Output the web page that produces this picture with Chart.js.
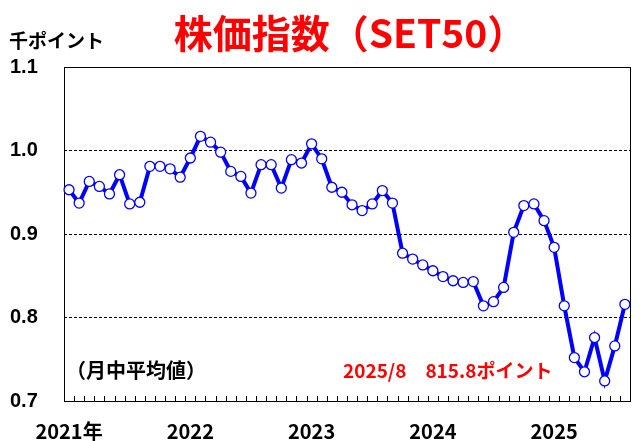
<!DOCTYPE html>
<html>
<head>
<meta charset="utf-8">
<script src="https://cdn.jsdelivr.net/npm/chart.js@4"></script>
<style>
  body { margin: 0; background: #fff; }
  canvas { display: block; }
</style>
</head>
<body>
<canvas id="setChart" width="643" height="441"></canvas>
<script>
// 月次データ（2021/1〜2025/8、千ポイント）
const months = [];
for (let y = 2021; y <= 2025; y++) {
  for (let m = 1; m <= 12; m++) {
    if (y === 2025 && m > 8) break;
    months.push(y + '/' + m);
  }
}
const values2021 = [0.953, 0.937, 0.963, 0.957, 0.948, 0.971, 0.936, 0.938, 0.981, 0.981, 0.978, 0.968];
const values2022 = [0.991, 1.017, 1.010, 0.998, 0.975, 0.969, 0.949, 0.983, 0.983, 0.955, 0.989, 0.985];
const values2023 = [1.008, 0.990, 0.956, 0.950, 0.935, 0.928, 0.936, 0.952, 0.937, 0.877, 0.870, 0.863];
const values2024 = [0.856, 0.849, 0.844, 0.842, 0.843, 0.814, 0.819, 0.836, 0.902, 0.934, 0.936, 0.916];
const values2025 = [0.884, 0.814, 0.752, 0.735, 0.776, 0.724, 0.766, 0.8158];
const setValues = [...values2021, ...values2022, ...values2023, ...values2024, ...values2025];
const yTicks = [0.7, 0.8, 0.9, 1.0, 1.1];

const JP = '"Noto Sans CJK JP", "Liberation Sans", sans-serif';
const NUM = '"Liberation Sans", Arial, sans-serif';

// 枠・目盛り・文字
const decor = {
  id: 'decor',
  beforeDatasetsDraw(chart) {
    const { ctx, chartArea: a, scales: { x } } = chart;
    const half = (x.getPixelForValue(1) - x.getPixelForValue(0)) / 2;
    ctx.save();
    ctx.strokeStyle = '#000';
    ctx.lineWidth = 1;
    ctx.beginPath();
    for (let i = 0; i <= months.length; i++) {
      const px = Math.round(x.getPixelForValue(i) - half) + 0.5;
      ctx.moveTo(px, a.bottom);
      ctx.lineTo(px, a.bottom - 5);
    }
    ctx.stroke();
    ctx.strokeRect(Math.round(a.left) + 0.5, Math.round(a.top) + 0.5,
      Math.round(a.right - a.left), Math.round(a.bottom - a.top));
    ctx.restore();
  },
  afterDraw(chart) {
    const { ctx } = chart;
    ctx.save();
    ctx.textBaseline = 'alphabetic';
    ctx.fillStyle = '#FF0000';
    ctx.textAlign = 'center';
    ctx.font = 'bold 39px ' + JP;
    ctx.fillText('株価指数（SET50）', 350, 48);
    ctx.fillStyle = '#000';
    ctx.textAlign = 'left';
    ctx.font = 'bold 19px ' + JP;
    ctx.fillText('千ポイント', 9, 48);
    ctx.font = 'bold 20px ' + JP;
    ctx.fillText('（月中平均値）', 66, 378);
    ctx.fillStyle = '#FF0000';
    ctx.font = 'bold 19px ' + JP;
    ctx.fillText('2025/8　815.8ポイント', 343, 378);
    ctx.restore();
  }
};

new Chart(document.getElementById('setChart'), {
  type: 'line',
  data: {
    labels: months,
    datasets: [{
      label: 'SET50',
      data: setValues,
      borderColor: '#0000FF',
      borderWidth: 4,
      pointRadius: 5,
      pointBackgroundColor: '#FFFFFF',
      pointBorderColor: '#0000FF',
      pointBorderWidth: 1.3,
      tension: 0
    }]
  },
  options: {
    responsive: false,
    animation: false,
    layout: { padding: { left: 10, right: 12, top: 67, bottom: 0 } },
    plugins: {
      legend: { display: false },
      title: { display: false },
      tooltip: { enabled: false }
    },
    scales: {
      x: {
        type: 'category',
        offset: true,
        grid: { display: false, drawTicks: false },
        border: { display: false },
        afterFit: s => { s.height = 40; },
        ticks: {
          autoSkip: false,
          maxRotation: 0,
          padding: 18,
          color: '#000',
          font: { family: JP, size: 20, weight: 'bold' },
          callback: (v, i) => {
            const [yy, mm] = months[i].split('/');
            if (mm !== '1') return '';
            return i === 0 ? yy + '年' : yy;
          }
        }
      },
      y: {
        min: 0.7,
        max: 1.1,
        afterFit: s => { s.width = 54; },
        afterBuildTicks: s => { s.ticks = yTicks.map(v => ({ value: v })); },
        grid: {
          drawTicks: false,
          lineWidth: 1,
          color: c => (c.tick && c.tick.value > 0.75 && c.tick.value < 1.05) ? '#000' : 'transparent'
        },
        border: { display: false, dash: [3, 2] },
        ticks: {
          crossAlign: 'far',
          padding: 0,
          color: '#000',
          font: { family: NUM, size: 20, weight: 'bold' },
          callback: v => v.toFixed(1)
        }
      }
    }
  },
  plugins: [decor]
});
</script>
</body>
</html>
